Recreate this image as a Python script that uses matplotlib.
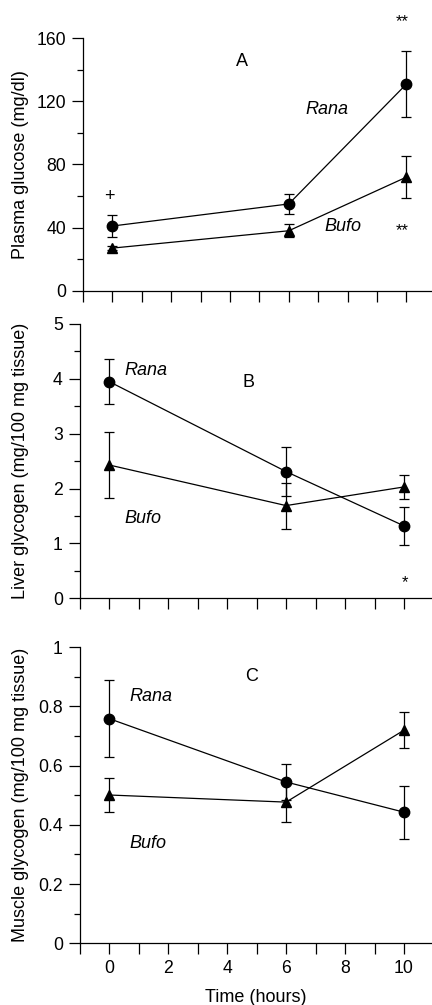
import matplotlib
matplotlib.use("Agg")
import matplotlib.pyplot as plt
from matplotlib.ticker import MultipleLocator, FixedLocator

plt.rcParams['font.family'] = ['Liberation Sans', 'DejaVu Sans']
plt.rcParams['font.size'] = 13

# sampling times (hours)
hours = [0, 6, 10]

# panel A: plasma glucose (mg/dl)
glu_rana = [41, 55, 131]
glu_rana_err = [7, 6.5, 21]
glu_bufo = [27, 38, 72]
glu_bufo_err = [1.5, 4, 13.5]

# panel B: liver glycogen (mg/100 mg tissue)
liv_rana = [3.95, 2.31, 1.32]
liv_rana_err = [0.41, 0.45, 0.35]
liv_bufo = [2.43, 1.69, 2.03]
liv_bufo_err = [0.6, 0.42, 0.22]

# panel C: muscle glycogen (mg/100 mg tissue)
mus_rana = [0.759, 0.545, 0.443]
mus_rana_err = [0.13, 0.062, 0.089]
mus_bufo = [0.501, 0.477, 0.72]
mus_bufo_err = [0.058, 0.067, 0.06]

W, H = 432, 1005
fig = plt.figure(figsize=(W / 100, H / 100), dpi=100)

def px_axes(left, right, top, bottom):
    return fig.add_axes([left / W, 1 - bottom / H, (right - left) / W, (bottom - top) / H])

axA = px_axes(83, 432, 38.3, 290.7)
axB = px_axes(79.7, 432, 324, 598.3)
axC = px_axes(79.7, 432, 647.3, 943.3)

def style(ax, ymax, major, minor, xmax):
    for s in ['top', 'right']:
        ax.spines[s].set_visible(False)
    for s in ['left', 'bottom']:
        ax.spines[s].set_linewidth(0.9)
    ax.set_xlim(-1, xmax)
    ax.set_ylim(0, ymax)
    ax.xaxis.set_major_locator(FixedLocator([0, 2, 4, 6, 8, 10]))
    ax.xaxis.set_minor_locator(FixedLocator([-1, 1, 3, 5, 7, 9]))
    ax.yaxis.set_major_locator(MultipleLocator(major))
    ax.yaxis.set_minor_locator(MultipleLocator(minor))
    ax.tick_params(which='major', direction='out', length=8.2, width=0.9, labelsize=12.7, pad=4)
    ax.tick_params(axis='x', which='minor', direction='out', length=8.2, width=0.9)
    ax.tick_params(axis='y', which='minor', direction='out', length=4, width=0.9)

def series(ax, y, err, marker):
    ax.errorbar(hours, y, yerr=err, color='black', marker=marker, markersize=7.5,
                linewidth=0.9, elinewidth=0.9, capsize=3.4, capthick=0.9, clip_on=False)

# panel A
series(axA, glu_rana, glu_rana_err, 'o')
series(axA, glu_bufo, glu_bufo_err, '^')
style(axA, 160, 40, 20, 10.87)
axA.set_ylabel('Plasma glucose (mg/dl)', fontsize=13)
axA.yaxis.set_label_coords(-0.155, 0.5)
axA.tick_params(axis='x', labelbottom=False)
axA.text(4.4, 145.6, 'A', ha='center', va='center', fontsize=13)
axA.text(7.3, 114.6, 'Rana', style='italic', ha='center', va='center', fontsize=13)
axA.text(7.83, 40.6, 'Bufo', style='italic', ha='center', va='center', fontsize=13)
axA.text(-0.1, 56.8, '+', ha='center', va='baseline', fontsize=13)
axA.text(9.85, 168, '**', ha='center', va='baseline', fontsize=12)
axA.text(9.85, 35.4, '**', ha='center', va='baseline', fontsize=12)

# panel B
series(axB, liv_rana, liv_rana_err, 'o')
series(axB, liv_bufo, liv_bufo_err, '^')
style(axB, 5, 1, 0.5, 10.95)
axB.set_ylabel('Liver glycogen (mg/100 mg tissue)', fontsize=13)
axB.yaxis.set_label_coords(-0.144, 0.5)
axB.tick_params(axis='x', labelbottom=False)
axB.text(4.74, 3.94, 'B', ha='center', va='center', fontsize=13)
axB.text(1.26, 4.15, 'Rana', style='italic', ha='center', va='center', fontsize=13)
axB.text(1.16, 1.45, 'Bufo', style='italic', ha='center', va='center', fontsize=13)
axB.text(10.02, 0.21, '*', ha='center', va='baseline', fontsize=12)

# panel C
series(axC, mus_rana, mus_rana_err, 'o')
series(axC, mus_bufo, mus_bufo_err, '^')
style(axC, 1, 0.2, 0.1, 10.95)
axC.yaxis.set_major_formatter(plt.FuncFormatter(lambda v, p: '%g' % round(v, 1)))
axC.set_ylabel('Muscle glycogen (mg/100 mg tissue)', fontsize=13)
axC.yaxis.set_label_coords(-0.144, 0.5)
axC.set_xlabel('Time (hours)', fontsize=13)
axC.xaxis.set_label_coords(0.5, -0.154)
axC.text(4.82, 0.9, 'C', ha='center', va='center', fontsize=13)
axC.text(1.41, 0.833, 'Rana', style='italic', ha='center', va='center', fontsize=13)
axC.text(1.31, 0.338, 'Bufo', style='italic', ha='center', va='center', fontsize=13)

fig.savefig('out.png', dpi=100)
